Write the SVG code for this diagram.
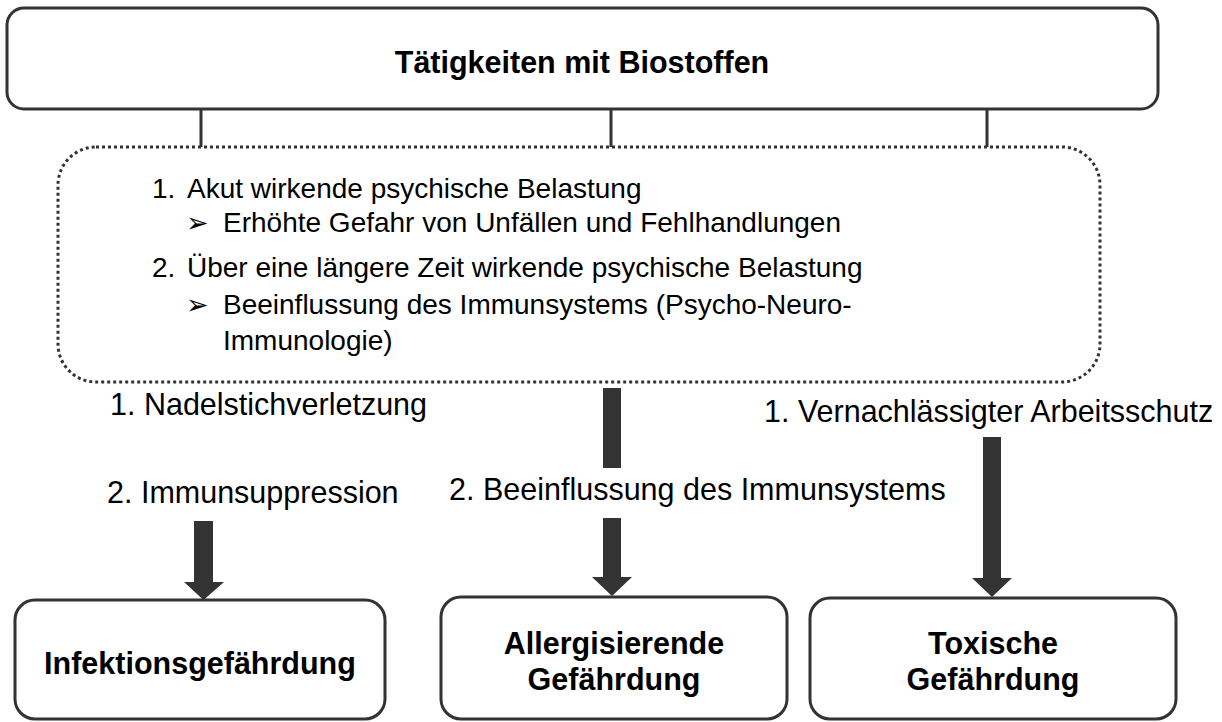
<svg xmlns="http://www.w3.org/2000/svg" width="1222" height="722" viewBox="0 0 1222 722">
  <style>
    .box { fill: #ffffff; stroke: #333333; stroke-width: 3; }
    .dotted { fill: none; stroke: #333333; stroke-width: 3; stroke-dasharray: 3 3; }
    .conn { stroke: #333333; stroke-width: 3; fill: none; }
    .arrow { fill: #333333; stroke: none; }
    .t { font-family: "Liberation Sans", Arial, sans-serif; fill: #000000; }
    .bold { font-weight: bold; font-size: 30.5px; }
    .label { font-size: 30.5px; }
    .list { font-size: 28px; }
    .bullet { font-family: "DejaVu Sans", sans-serif; font-size: 27px; fill: #000000; }
  </style>
  <rect width="1222" height="722" fill="#ffffff"/>

  <g id="connectors">
    <line class="conn" x1="201" y1="109" x2="201" y2="147"/>
    <line class="conn" x1="611" y1="109" x2="611" y2="147"/>
    <line class="conn" x1="987" y1="109" x2="987" y2="147"/>
    <path class="arrow" d="M194,521 H213 V582 H224 L203.5,600 L184,582 H194 Z"/>
    <rect class="arrow" x="603" y="388" width="18" height="80"/>
    <path class="arrow" d="M603,518 H621 V577 H632 L612,596 L592,577 H603 Z"/>
    <path class="arrow" d="M983,437 H1001 V578 H1012 L992,597 L972,578 H983 Z"/>
  </g>

  <g id="node-top">
    <rect class="box" x="7" y="8" width="1151" height="101" rx="17" ry="17"/>
    <text class="t bold" x="582" y="73" text-anchor="middle">Tätigkeiten mit Biostoffen</text>
  </g>

  <g id="node-psych">
    <rect class="dotted" x="58" y="147" width="1042" height="235" rx="38" ry="38"/>
    <text class="t list" x="152" y="198">1.</text>
    <text class="t list" x="187" y="198">Akut wirkende psychische Belastung</text>
    <text class="bullet" x="186" y="232">➢</text>
    <text class="t list" x="223" y="232">Erhöhte Gefahr von Unfällen und Fehlhandlungen</text>
    <text class="t list" x="152" y="277">2.</text>
    <text class="t list" x="187" y="277">Über eine längere Zeit wirkende psychische Belastung</text>
    <text class="bullet" x="186" y="314">➢</text>
    <text class="t list" x="223" y="314">Beeinflussung des Immunsystems (Psycho-Neuro-</text>
    <text class="t list" x="223" y="350">Immunologie)</text>
  </g>

  <g id="labels">
    <text class="t label" x="110" y="415">1. Nadelstichverletzung</text>
    <text class="t label" x="107" y="503">2. Immunsuppression</text>
    <text class="t label" x="449" y="500">2. Beeinflussung des Immunsystems</text>
    <text class="t label" x="764" y="422">1. Vernachlässigter Arbeitsschutz</text>
  </g>

  <g id="node-infektion">
    <rect class="box" x="15" y="600" width="370" height="119" rx="20" ry="20"/>
    <text class="t bold" x="200" y="674" text-anchor="middle">Infektionsgefährdung</text>
  </g>

  <g id="node-allergie">
    <rect class="box" x="441" y="597" width="346" height="122" rx="20" ry="20"/>
    <text class="t bold" x="614" y="654" text-anchor="middle">Allergisierende</text>
    <text class="t bold" x="614" y="690" text-anchor="middle">Gefährdung</text>
  </g>

  <g id="node-toxisch">
    <rect class="box" x="810" y="598" width="366" height="121" rx="20" ry="20"/>
    <text class="t bold" x="993" y="654" text-anchor="middle">Toxische</text>
    <text class="t bold" x="993" y="690" text-anchor="middle">Gefährdung</text>
  </g>
</svg>
